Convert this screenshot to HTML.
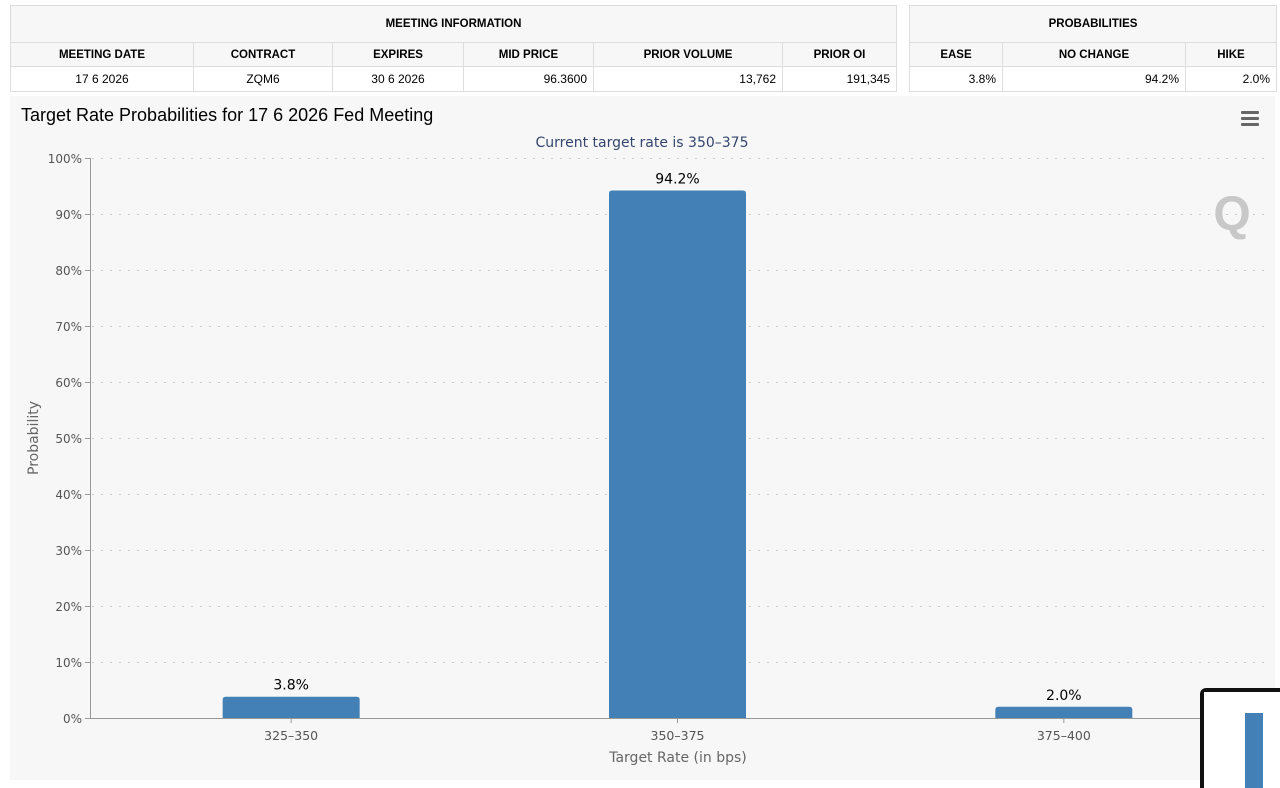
<!DOCTYPE html>
<html><head><meta charset="utf-8"><style>
body{margin:0;width:1280px;height:788px;background:#fff;font-family:"Liberation Sans",Arial,sans-serif;position:relative;overflow:hidden}
table{position:absolute;border-collapse:collapse;font-size:12px;color:#000;table-layout:fixed}
td{border:1px solid #ddd;padding:0 6px;box-sizing:border-box}
.h{background:#f7f7f7;font-weight:bold;text-align:center;font-size:11.5px}
.d{text-align:right;height:25px}
.c{text-align:center}
#chart{position:absolute;left:10px;top:96px;width:1265px;height:684px;background:#f7f7f7}
</style></head><body>
<table style="left:10px;top:5px;width:886px">
<colgroup><col style="width:183px"><col style="width:139px"><col style="width:131px"><col style="width:130px"><col style="width:189px"><col style="width:114px"></colgroup>
<tr><td class="h" colspan="6" style="height:37px">MEETING INFORMATION</td></tr>
<tr style="height:24px"><td class="h">MEETING DATE</td><td class="h">CONTRACT</td><td class="h">EXPIRES</td><td class="h">MID PRICE</td><td class="h">PRIOR VOLUME</td><td class="h">PRIOR OI</td></tr>
<tr><td class="d c">17 6 2026</td><td class="d c">ZQM6</td><td class="d c">30 6 2026</td><td class="d">96.3600</td><td class="d">13,762</td><td class="d">191,345</td></tr>
</table>
<table style="left:909px;top:5px;width:367px">
<colgroup><col style="width:93px"><col style="width:183px"><col style="width:91px"></colgroup>
<tr><td class="h" colspan="3" style="height:37px">PROBABILITIES</td></tr>
<tr style="height:24px"><td class="h">EASE</td><td class="h">NO CHANGE</td><td class="h">HIKE</td></tr>
<tr><td class="d">3.8%</td><td class="d">94.2%</td><td class="d">2.0%</td></tr>
</table>
<div id="chart"></div>
<svg id="svg" width="1280" height="788" style="position:absolute;left:0;top:0" font-family="DejaVu Sans, sans-serif">
<text x="21" y="121" font-family="Liberation Sans, Arial, sans-serif" font-size="18" fill="#000">Target Rate Probabilities for 17 6 2026 Fed Meeting</text>
<text x="642" y="147" text-anchor="middle" font-size="14" fill="#34466e">Current target rate is 350–375</text>
<g fill="#666"><rect x="1241" y="111" width="18" height="3" rx="1"/><rect x="1241" y="117" width="18" height="3" rx="1"/><rect x="1241" y="123" width="18" height="3" rx="1"/></g>
<text x="1232" y="230" text-anchor="middle" font-family="Liberation Sans, sans-serif" font-weight="bold" font-size="48" fill="#c8c8c8">Q</text>
<g id="grid"></g><g id="bars"></g>
<line x1="90" y1="718.5" x2="1265" y2="718.5" stroke="#999"/>
<line x1="90.5" y1="158" x2="90.5" y2="718" stroke="#999"/>
<text transform="translate(38,438) rotate(-90)" text-anchor="middle" font-size="14" fill="#666">Probability</text>
<text x="678" y="762" text-anchor="middle" font-size="14" fill="#666">Target Rate (in bps)</text>
<g><rect x="1200" y="688" width="90" height="110" rx="6" fill="#111"/><rect x="1204" y="692" width="80" height="100" fill="#fff"/><rect x="1245" y="713" width="18" height="75" fill="#4380b5"/></g>
</svg>
<script>
const categories=["325-350","350-375","375-400"];
const values=[3.8,94.2,2.0];
const labels=["3.8%","94.2%","2.0%"];
const yTicks=[0,10,20,30,40,50,60,70,80,90,100];
const X0=98,PW=1159,Y0=718,PH=560;
function y(v){return Y0-v/100*PH}
function xc(i){return X0+PW/categories.length*(i+0.5)}
const ns="http://www.w3.org/2000/svg";
const grid=document.getElementById('grid'),bars=document.getElementById('bars');
function mk(t,a,p){const e=document.createElementNS(ns,t);for(const k in a)e.setAttribute(k,a[k]);p.appendChild(e);return e}
yTicks.forEach(v=>{
 if(v>0){const l=mk('line',{x1:92,x2:1265,y1:y(v)+0.5,y2:y(v)+0.5,stroke:'#ccc','stroke-dasharray':'2,7'},grid);
 
 }
 mk('line',{x1:85,x2:90,y1:y(v)+0.5,y2:y(v)+0.5,stroke:'#999'},grid);
 const t=mk('text',{x:82,y:y(v)+5,'text-anchor':'end','font-size':12,fill:'#555'},grid);t.textContent=v+'%';
 
 
});
categories.forEach((c,i)=>{
 const cx=xc(i),w=137;
 const top=y(values[i]);
 const r=mk('path',{d:`M${cx-w/2},${Y0} V${top+3} Q${cx-w/2},${top} ${cx-w/2+3},${top} H${cx+w/2-3} Q${cx+w/2},${top} ${cx+w/2},${top+3} V${Y0} Z`,fill:'#4380b5'},bars);
 
 
 const t=mk('text',{x:cx,y:top-7,'text-anchor':'middle','font-size':14,fill:'#000'},bars);t.textContent=labels[i];
 
 
 const tk=mk('line',{x1:cx,x2:cx,y1:Y0,y2:Y0+5,stroke:'#999'},bars);
 const xl=mk('text',{x:cx,y:740,'text-anchor':'middle','font-size':12.5,fill:'#555'},bars);xl.textContent=c.replace('-','–');
 
 
});
</script>
</body></html>
